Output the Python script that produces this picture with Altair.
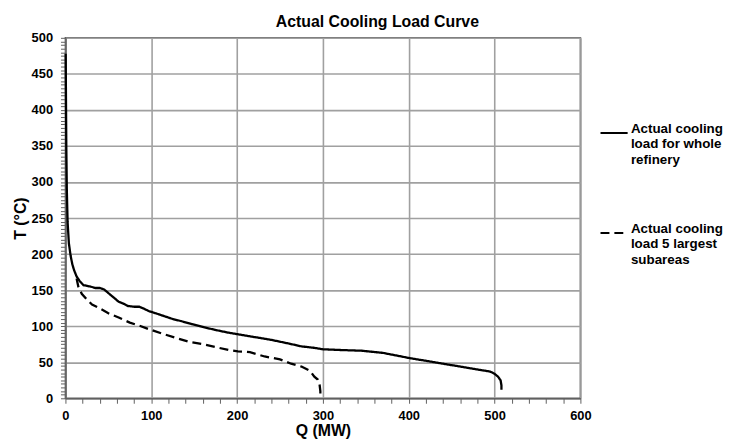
import altair as alt
import pandas as pd

# Solid: whole refinery
q_whole = [0.3, 0.6, 1.0, 1.6, 2.5, 4, 6, 8, 10, 13, 17, 21, 25, 29, 35, 40, 45, 50, 56, 62, 68, 73, 80, 86, 92, 97, 105, 115, 125, 135, 147, 160, 174, 190, 205, 220, 240, 260, 275, 290, 300, 320, 345, 370, 400, 425, 450, 470, 485, 495, 500, 504, 507, 508, 508]
t_whole = [478, 420, 350, 290, 245, 215, 198, 186, 178, 169, 162, 157, 156, 155, 153, 153, 151, 146, 140, 134, 131, 128, 127, 127, 124, 121, 118, 114, 110, 107, 103, 99, 95, 91, 88, 85, 81, 76, 72, 70, 68, 67, 66, 63, 56, 51, 46, 42, 39, 37, 34, 30, 25, 18, 12]

# Dashed: 5 largest subareas
q_sub = [13, 15, 19, 25, 31, 38, 50, 62, 75, 88, 97, 112, 128, 145, 160, 175, 190, 201, 215, 232, 250, 263, 275, 285, 290, 294, 296, 297, 297]
t_sub = [166, 155, 145, 137, 130, 126, 118, 112, 105, 100, 96, 90, 84, 78, 75, 71, 67, 65, 64, 58, 54, 48, 44, 38, 30, 26, 20, 10, 0]

s1 = "Actual cooling load for whole refinery"
s2 = "Actual cooling load 5 largest subareas"

df = pd.concat([
    pd.DataFrame({"Q": q_whole, "T": t_whole, "series": s1, "order": range(len(q_whole))}),
    pd.DataFrame({"Q": q_sub, "T": t_sub, "series": s2, "order": range(len(q_sub))}),
])

FONT = "Liberation Sans"
xvals = list(range(0, 601, 20))
yvals = list(range(0, 501, 5))

chart = alt.Chart(df).mark_line(color="black", strokeWidth=2.3).encode(
    x=alt.X("Q:Q", title="Q (MW)",
            scale=alt.Scale(domain=[0, 600], nice=False, zero=False),
            axis=alt.Axis(values=xvals,
                          labelExpr="datum.value % 100 === 0 ? datum.label : ''",
                          gridOpacity={"condition": {"test": "datum.value % 100 === 0", "value": 1}, "value": 0},
                          labelFlush=False, labelPadding=6, titlePadding=1)),
    y=alt.Y("T:Q", title="T (°C)",
            scale=alt.Scale(domain=[0, 500], nice=False),
            axis=alt.Axis(values=yvals,
                          labelExpr="datum.value % 50 === 0 ? datum.label : ''",
                          gridOpacity={"condition": {"test": "datum.value % 50 === 0", "value": 1}, "value": 0},
                          labelFlush=False, labelPadding=8, titlePadding=3)),
    strokeDash=alt.StrokeDash("series:N",
                              scale=alt.Scale(domain=[s1, s2], range=[[1, 0], [9, 5]]),
                              legend=alt.Legend(title=None, orient="none",
                                                legendX=539, legendY=81,
                                                labelExpr="datum.label == '%s' ? ['Actual cooling', 'load for whole', 'refinery'] : ['Actual cooling', 'load 5 largest', 'subareas']" % s1,
                                                symbolType="stroke", symbolStrokeColor="black",
                                                symbolStrokeWidth=2, symbolSize=750,
                                                rowPadding=52,
                                                labelFontSize=13.5, labelFontWeight="bold",
                                                labelFont=FONT, labelLimit=200, labelColor="black",
                                                labelBaseline="alphabetic", labelOffset=2,
                                                padding=0)),
    detail="series:N",
    order="order:Q",
).properties(
    width=520, height=364,
    padding={"left": 4, "top": 4, "right": 0, "bottom": 0},
    title=alt.TitleParams("Actual Cooling Load Curve", anchor="middle", frame="group", dx=55,
                          font=FONT, fontSize=16, fontWeight="bold", offset=2, color="black"),
).configure_axis(
    labelFont=FONT, labelFontSize=13, labelFontWeight="bold", labelColor="black",
    titleFont=FONT, titleFontSize=16, titleFontWeight="bold", titleColor="black",
    gridColor="#a0a0a0", gridWidth=1.6,
    domainColor="#606060", domainWidth=1.6,
    tickColor="#606060", tickSize=5, tickWidth=1,
).configure_view(
    stroke="#606060", strokeWidth=1.6,
)

chart.save("out.html", embed_options={"renderer": "svg", "actions": False})
